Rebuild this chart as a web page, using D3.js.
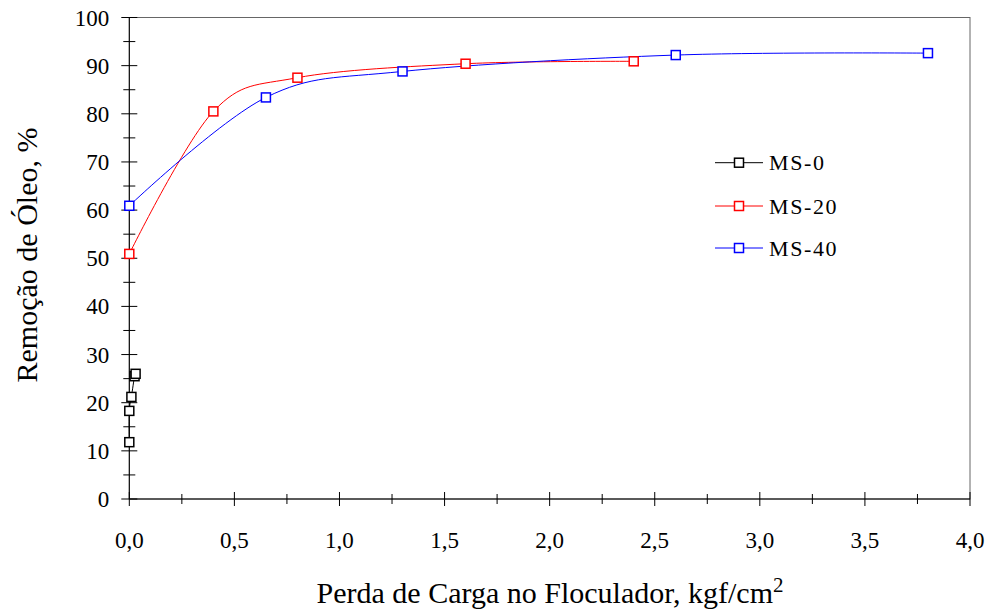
<!DOCTYPE html>
<html><head><meta charset="utf-8">
<script src="https://cdn.jsdelivr.net/npm/d3@7"></script>
<style>body{margin:0;background:#fff}svg{display:block}text{font-family:"Liberation Serif","Times New Roman",serif;fill:#000}</style>
</head><body><svg id="c" width="989" height="615"></svg>
<script>
const seriesNames = ["MS-0", "MS-20", "MS-40"];
const seriesColors = ["#000000", "#ff0000", "#0000ff"];
const ms0X = [0.0, 0.0, 0.01, 0.025, 0.03];
const ms0Y = [11.8, 18.3, 21.2, 25.5, 26.0];
const ms20X = [0.0, 0.4, 0.8, 1.6, 2.4];
const ms20Y = [50.9, 80.5, 87.5, 90.4, 90.9];
const ms40X = [0.0, 0.65, 1.3, 2.6, 3.8];
const ms40Y = [60.9, 83.4, 88.8, 92.2, 92.6];
const xTicks = [0, 0.5, 1.0, 1.5, 2.0, 2.5, 3.0, 3.5, 4.0];
const yTicks = [0, 10, 20, 30, 40, 50, 60, 70, 80, 90, 100];

const svg = d3.select("#c");
const L = 129.3, R = 970, T = 17.5, B = 499;
const x = d3.scaleLinear().domain([0, 4]).range([L, R]);
const y = d3.scaleLinear().domain([0, 100]).range([B, T]);

// frame
svg.append("rect").attr("x", L).attr("y", T).attr("width", R - L).attr("height", B - T)
  .attr("fill", "none").attr("stroke", "#666").attr("stroke-width", 1);

// axes
const gx = svg.append("g").attr("transform", `translate(0,${B})`);
gx.append("line").attr("x1", L).attr("x2", R).attr("stroke", "#000");
d3.range(0, 4.001, 0.25).forEach(v => {
  const major = Math.abs(v * 2 - Math.round(v * 2)) < 1e-6;
  gx.append("line").attr("x1", x(v)).attr("x2", x(v))
    .attr("y1", major ? -7 : -5).attr("y2", major ? 7 : 5).attr("stroke", "#000");
});
xTicks.forEach(v => {
  gx.append("text").attr("x", x(v)).attr("y", 49).attr("text-anchor", "middle")
    .attr("font-size", 23).text(d3.format(".1f")(v).replace(".", ","));
});

const gy = svg.append("g").attr("transform", `translate(${L},0)`);
gy.append("line").attr("y1", T).attr("y2", B).attr("stroke", "#000");
d3.range(0, 100.001, 5).forEach(v => {
  const major = v % 10 === 0;
  gy.append("line").attr("y1", y(v)).attr("y2", y(v))
    .attr("x1", major ? -8 : -6).attr("x2", major ? 8 : 6).attr("stroke", "#000");
});
yTicks.forEach(v => {
  gy.append("text").attr("x", -20).attr("y", y(v)).attr("dy", "0.35em")
    .attr("text-anchor", "end").attr("font-size", 23).text(v);
});

// titles
const xt = svg.append("text").attr("x", 550).attr("y", 603).attr("text-anchor", "middle")
  .attr("font-size", 30);
xt.append("tspan").text("Perda de Carga no Floculador, kgf/cm");
xt.append("tspan").attr("dy", -11).attr("font-size", 21).text("2");

svg.append("text").attr("transform", "translate(37,255) rotate(-90)")
  .attr("text-anchor", "middle").attr("font-size", 30).text("Remoção de Óleo, %");

// series
const data = [
  ms0X.map((v, i) => [v, ms0Y[i]]),
  ms20X.map((v, i) => [v, ms20Y[i]]),
  ms40X.map((v, i) => [v, ms40Y[i]])
];
const line = d3.line().x(d => x(d[0])).y(d => y(d[1])).curve(d3.curveCardinal.tension(0));
const S = 9;
data.forEach((pts, k) => {
  svg.append("path").datum(pts).attr("d", line).attr("fill", "none")
    .attr("stroke", seriesColors[k]).attr("stroke-width", 1);
});
data.forEach((pts, k) => {
  svg.selectAll(null).data(pts).enter().append("rect")
    .attr("x", d => x(d[0]) - S / 2).attr("y", d => y(d[1]) - S / 2)
    .attr("width", S).attr("height", S).attr("fill", "#fff")
    .attr("stroke", seriesColors[k]).attr("stroke-width", 1.5);
});

// legend
const legY = [162.7, 206, 248];
seriesNames.forEach((n, k) => {
  const g = svg.append("g");
  g.append("line").attr("x1", 715).attr("x2", 763).attr("y1", legY[k]).attr("y2", legY[k])
    .attr("stroke", seriesColors[k]).attr("stroke-width", 1);
  g.append("rect").attr("x", 739 - S / 2).attr("y", legY[k] - S / 2).attr("width", S).attr("height", S)
    .attr("fill", "#fff").attr("stroke", seriesColors[k]).attr("stroke-width", 1.5);
  g.append("text").attr("x", 769).attr("y", legY[k]).attr("dy", "0.35em")
    .attr("font-size", 22).attr("letter-spacing", 1.6).text(n);
});
</script></body></html>
